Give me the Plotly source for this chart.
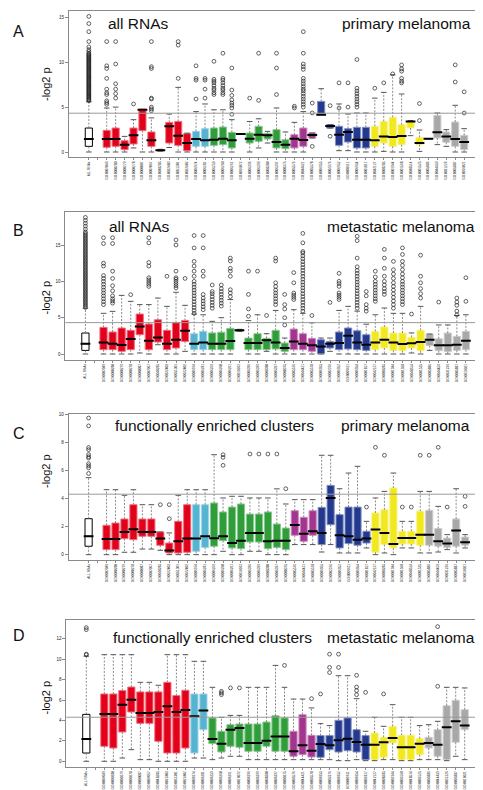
import plotly.graph_objects as go

# ---------------- categories ----------------
GO_TERMS = [
    "GO:0007049", "GO:0000280", "GO:0000279", "GO:0000278", "GO:0000087",
    "GO:0007067", "GO:0048285", "GO:0022403", "GO:0051301", "GO:0022402",
    "GO:0006974", "GO:0006281",
    "GO:0006259", "GO:0006260", "GO:0006261", "GO:0016072", "GO:0006396",
    "GO:0006399", "GO:0008380", "GO:0006397", "GO:0000375",
    "GO:0005576", "GO:0044421", "GO:0005578",
    "GO:0006955", "GO:0002376", "GO:0006952", "GO:0009611", "GO:0006954", "GO:0001817",
    "GO:0042127", "GO:0008285", "GO:0001944", "GO:0001568", "GO:0048514", "GO:0001525",
    "GO:0005886", "GO:0044459", "GO:0031226", "GO:0005887", "GO:0016021",
]
ALL_LABEL = "ALL RNAs"
GROUPS = (["red"] * 10 + ["lightblue"] * 2 + ["green"] * 9 + ["purple"] * 3
          + ["darkblue"] * 6 + ["yellow"] * 6 + ["gray"] * 5)
GROUP_COLORS = {
    "all": "#FFFFFF", "red": "#E2001A", "lightblue": "#56B4D3", "green": "#2F9E3A",
    "purple": "#A3358F", "darkblue": "#22398F", "yellow": "#F2E81E", "gray": "#A8A8A8",
}
THRESHOLD = 4.32  # -log2(0.05)

# ---------------- panel A: all RNAs, primary melanoma ----------------
A_LO = [0, 0, 0, 0, 0.45, 0, 0, 0.1, 0.5, 0, 0, 0, 0, 0, 0, 0, 2.0, 0, 0.45, 1.0, 0, 0,
        0, 0, 1.56, 4.16, 2.67, 0.15, 0.15, 0, 0, 0, 0.07, 0, 0, 1.82, 0.07, 1.48, 0.82, 0.63, 0, 0]
A_Q1 = [0.63, 0.52, 0.63, 0.26, 0.89, 2.38, 0.63, 0.15, 1.0, 0.74, 0.15, 0.63, 0.63, 0.74, 0.82, 0.45, 2.0, 1.0, 1.19, 1.45, 0.45, 0.37,
        0.45, 0.63, 1.56, 4.16, 2.67, 0.74, 1.11, 0.45, 0.45, 0.63, 1.0, 0.63, 0.82, 2.67, 0.82, 1.48, 1.56, 1.08, 0.63, 0.26]
A_MED = [1.45, 1.45, 1.45, 0.82, 1.86, 4.7, 1.3, 0.19, 2.86, 1.82, 1.0, 1.45, 1.3, 1.37, 1.48, 1.3, 2.0, 1.48, 1.93, 1.86, 1.11, 0.82,
         1.48, 1.34, 1.89, 4.16, 2.9, 1.93, 2.23, 1.37, 1.37, 1.3, 1.74, 1.67, 1.78, 3.41, 1.0, 1.48, 2.19, 1.74, 1.45, 1.11]
A_Q3 = [2.67, 2.41, 2.67, 1.26, 2.67, 4.75, 2.23, 0.22, 3.3, 3.41, 2.04, 2.3, 2.6, 2.67, 2.78, 2.19, 2.0, 2.12, 2.86, 2.08, 2.49, 1.37,
        1.93, 2.67, 2.12, 5.64, 3.04, 2.86, 2.6, 2.75, 2.75, 2.86, 3.41, 3.86, 3.04, 3.5, 1.63, 1.48, 4.08, 2.23, 3.34, 1.86]
A_HI = [5.6, 4.9, 5.0, 1.74, 3.6, 4.75, 3.8, 0.3, 4.23, 7.2, 2.1, 4.5, 5.35, 4.7, 4.7, 3.6, 2.0, 3.4, 3.7, 2.3, 4.9, 2.23,
        3.3, 4.5, 2.12, 7.05, 3.04, 5.35, 4.23, 4.34, 4.34, 6.0, 6.64, 8.6, 6.46, 3.5, 2.45, 1.48, 4.34, 2.49, 5.2, 2.6]
A_OUT = [
    [5.7, 5.8, 5.9, 6.0, 6.1, 6.2, 6.3, 6.4, 6.5, 6.6, 6.7, 6.8, 6.9, 7.0, 7.1, 7.2, 7.3, 7.4, 7.5, 7.6,
     7.7, 7.8, 7.9, 8.0, 8.1, 8.2, 8.3, 8.4, 8.5, 8.6, 8.7, 8.8, 8.9, 9.0, 9.1, 9.2, 9.3, 9.4, 9.5, 9.6,
     9.7, 9.8, 9.9, 10.0, 10.1, 10.2, 10.3, 10.4, 10.5, 10.6, 10.7, 10.8, 10.9, 11.0, 11.2, 11.4, 11.7,
     12.3, 13.4, 14.3, 15.1],
    [5.3, 5.5, 5.7, 6.4, 6.6, 7.0, 8.2, 9.3, 9.6, 12.3],
    [6.0, 6.5, 7.0, 7.6, 9.8, 12.3],
    [],
    [5.35],
    [],
    [4.6, 4.8, 5.0, 5.9, 6.0, 9.3, 9.5, 12.3],
    [],
    [],
    [8.2, 11.9, 12.3],
    [],
    [5.9, 8.0, 8.2, 9.6],
    [6.0, 7.0, 8.0, 8.2],
    [6.4, 6.6, 6.9, 7.1, 7.4, 7.7, 7.9, 8.1, 10.1],
    [6.4, 6.6, 6.9, 7.1, 7.4, 7.7, 8.0, 8.2, 11.0],
    [4.2, 4.9, 5.2, 5.45, 5.8, 6.3, 6.9, 9.35],
    [],
    [6.0],
    [5.75, 11.0],
    [],
    [6.4, 9.35, 11.0],
    [],
    [4.9, 5.1],
    [5.0, 5.3, 5.6, 5.9, 6.2, 6.5, 6.8, 7.0, 7.3, 7.6, 7.9, 8.2, 9.2, 9.5, 9.8, 11.0, 13.4],
    [0.63, 4.35, 5.45],
    [],
    [1.75, 5.16],
    [4.9, 7.7],
    [5.0, 7.7],
    [5.0, 5.3, 5.6, 5.9, 6.2, 6.5, 6.8, 7.1, 10.3],
    [],
    [7.1],
    [7.7],
    [8.7],
    [7.7, 7.9, 8.2, 9.0, 9.25, 9.7],
    [],
    [3.5, 5.4],
    [],
    [],
    [],
    [7.8, 9.7],
    [4.34, 6.7],
]

# ---------------- panel B: all RNAs, metastatic melanoma ----------------
B_LO = [0, 0, 0, 0, 0, 0.14, 0, 1.28, 0, 0, 0.37, 0, 0, 0, 0, 0, 3.12, 0, 0, 0.37, 0, 0,
        0, 0, 0, 0, 0.37, 0, 0, 0, 0, 0, 0, 0, 0, 0.14, 0, 0.5, 0, 0, 0, 0]
B_Q1 = [0.5, 0.6, 0.6, 0.37, 0.6, 2.66, 0.6, 1.65, 0.6, 0.83, 1.74, 0.6, 0.6, 0.6, 0.6, 0.6, 3.15, 0.6, 0.6, 0.6, 0.69, 0.37,
        0.6, 0.6, 0.37, 0.05, 0.83, 0.6, 0.69, 0.6, 0.5, 0.6, 0.83, 0.5, 0.46, 0.83, 0.46, 1.15, 0.46, 0.32, 0.5, 0.6]
B_MED = [1.42, 1.6, 1.42, 1.24, 2.06, 3.8, 1.83, 2.29, 1.42, 1.97, 3.21, 1.42, 1.6, 1.42, 1.42, 1.8, 3.26, 1.51, 1.51, 1.88, 1.6, 0.83,
         1.74, 1.42, 1.2, 1.05, 1.42, 1.51, 2.52, 1.6, 1.28, 1.6, 1.97, 1.6, 1.38, 1.47, 1.65, 1.97, 1.2, 1.2, 1.28, 1.83]
B_Q3 = [2.89, 3.67, 3.03, 3.58, 3.26, 5.5, 4.13, 4.72, 3.26, 4.31, 4.63, 2.8, 3.12, 2.9, 3.0, 3.53, 3.35, 2.2, 2.8, 2.16, 3.26, 1.51,
        3.44, 2.8, 2.16, 1.97, 1.74, 3.03, 3.58, 3.2, 2.66, 3.12, 3.72, 2.89, 2.89, 2.3, 3.26, 2.75, 2.1, 2.89, 2.43, 3.12]
B_HI = [6.3, 5.6, 5.87, 8.07, 7.25, 6.8, 6.8, 7.7, 6.56, 8.5, 6.7, 5.5, 5.4, 4.5, 5.0, 7.5, 3.4, 4.6, 5.4, 2.8, 6.0, 2.2,
        6.1, 5.6, 4.3, 2.2, 2.2, 6.0, 6.56, 5.9, 4.1, 5.4, 6.33, 5.6, 5.6, 2.9, 6.56, 2.75, 4.0, 4.0, 5.3, 5.4]
B_OUT = [
    [6.4, 6.6, 6.8, 7.0, 7.2, 7.4, 7.6, 7.8, 8.0, 8.2, 8.4, 8.6, 8.8, 9.0, 9.2, 9.4, 9.6, 9.8, 10.0, 10.2,
     10.4, 10.6, 10.8, 11.0, 11.2, 11.4, 11.6, 11.8, 12.0, 12.2, 12.4, 12.6, 12.8, 13.0, 13.2, 13.4, 13.6,
     13.8, 14.0, 14.2, 14.4, 14.6, 14.8, 15.0, 15.2, 15.4, 15.6, 15.8, 16.0, 16.2, 16.4, 16.6, 16.8,
     17.2, 17.6, 18.0, 18.4, 18.8],
    [6.8, 7.2, 7.6, 8.0, 8.4, 8.8, 9.2, 9.6, 10.0, 10.4, 10.8, 12.1, 12.5, 15.2, 16.0],
    [7.0, 7.3, 7.6, 8.0, 8.7, 9.4, 10.4, 11.4, 15.2, 16.0],
    [],
    [8.17],
    [],
    [9.3, 9.6, 9.9, 10.2, 10.5, 12.1, 12.6, 15.3, 16.0],
    [],
    [10.7],
    [9.1, 9.4, 9.7, 10.0, 10.3, 10.5, 11.4, 15.0, 15.7],
    [10.4],
    [5.6, 6.0, 6.4, 6.8, 7.2, 7.6, 8.0, 8.4, 8.8, 9.2, 9.6, 10.0, 10.7, 11.4, 12.1, 12.75, 14.6, 16.3],
    [6.1, 6.5, 6.9, 7.3, 7.7, 8.2, 10.7, 11.4, 14.6, 16.3],
    [6.3, 6.7, 7.1, 7.5, 7.9, 8.3, 8.6, 9.5],
    [6.6, 7.0, 7.4, 7.8, 8.2, 8.6, 9.0, 9.5],
    [7.9, 8.4, 8.85, 10.7, 11.4, 11.8, 12.8, 13.2],
    [],
    [5.2, 6.2, 8.2, 11.4],
    [11.4],
    [5.3],
    [6.8, 7.2, 7.6, 8.0, 8.4, 8.8, 9.3, 9.8, 12.8, 13.2],
    [4.0, 5.0, 6.2, 6.8, 8.2],
    [7.5, 7.8, 8.1, 8.4, 9.8, 11.2],
    [5.9, 6.3, 6.7, 7.1, 7.5, 7.9, 8.3, 8.7, 9.1, 9.5, 9.9, 10.3, 10.7, 11.1, 11.5, 11.9, 12.3, 12.7,
     13.1, 13.5, 13.9, 14.1, 15.3, 16.6],
    [5.3],
    [],
    [7.1],
    [7.5, 7.8, 8.1, 8.4, 9.3, 9.7, 10.0, 11.1],
    [],
    [6.3, 6.7, 7.1, 7.5, 7.9, 8.3, 8.7, 9.1, 9.5, 9.9, 10.3, 10.7, 11.1, 11.5, 12.0, 13.2, 15.6, 16.2],
    [5.9, 6.3, 6.8, 8.0, 8.6],
    [7.25, 7.6, 8.0, 8.4, 8.8, 9.2, 9.6, 10.0, 10.6, 11.4],
    [8.2, 8.6, 9.0, 9.5, 10.0, 10.7, 11.8, 13.2, 14.4],
    [6.3, 6.8, 7.3, 7.8, 8.3, 8.8, 9.3, 9.8, 10.4, 11.0, 11.6, 12.75],
    [6.8, 7.2, 7.6, 8.0, 8.4, 8.8, 9.2, 9.6, 10.0, 10.5, 11.0, 11.6, 12.2, 12.75, 13.7, 14.6],
    [5.5],
    [7.7, 8.3, 9.0, 9.8, 10.7, 13.6],
    [],
    [7.15],
    [],
    [5.4, 5.9, 6.7, 7.15, 7.7],
    [7.25, 10.5],
]

# ---------------- panel C: functionally enriched clusters, primary melanoma ----------------
C_LO = [0, 0, 0, 0.17, 0.17, 0.4, 0.4, 0.31, 0, 0, 0, 0, 0, 0, 0.24, 0, 0, 0.24, 0.24, 0, 0, 0,
        0.72, 0.72, 0.72, 0.19, 0.72, 0.12, 0.12, 0.12, 0.48, 0, 0.12, 0, 0.48, 0.48, 0.12, 0.12, 0.19, 0.36, 0.12, 0.48]
C_Q1 = [0.6, 0.36, 0.36, 1.14, 1.07, 1.31, 1.31, 0.67, 0.12, 0.12, 0.17, 0.24, 0.52, 0.6, 1.0, 0.48, 0.43, 0.9, 0.9, 0.43, 0.52, 0.36,
        1.38, 0.95, 1.38, 0.72, 2.14, 0.48, 0.79, 0.67, 0.83, 0.17, 0.72, 0.48, 0.76, 0.76, 0.67, 0.67, 0.6, 0.52, 0.6, 0.67]
C_MED = [1.31, 1.12, 1.12, 1.62, 1.81, 1.62, 1.62, 1.15, 0.29, 0.95, 1.15, 1.15, 1.31, 1.17, 1.31, 0.83, 1.0, 1.55, 1.55, 0.95, 1.0, 1.0,
         2.12, 1.5, 1.67, 1.55, 4.05, 1.38, 1.31, 1.07, 1.15, 1.79, 1.55, 0.76, 1.19, 1.19, 1.43, 1.43, 0.95, 0.79, 1.72, 0.88]
C_Q3 = [2.57, 2.1, 2.26, 2.55, 3.57, 2.55, 2.55, 1.62, 0.83, 2.38, 3.57, 3.57, 3.57, 3.69, 3.05, 3.4, 3.62, 2.9, 2.9, 3.05, 2.19, 1.9,
        3.14, 2.67, 3.14, 3.38, 4.95, 2.86, 3.4, 3.4, 1.67, 2.98, 3.21, 4.76, 1.67, 1.67, 3.1, 3.17, 1.86, 1.19, 2.55, 1.26]
C_HI = [5.5, 4.64, 4.64, 4.24, 4.64, 3.57, 3.57, 1.62, 1.55, 4.24, 4.64, 4.64, 4.64, 7.14, 4.05, 4.17, 4.17, 4.05, 4.05, 4.05, 4.7, 3.62,
        3.93, 3.93, 3.93, 7.1, 7.1, 4.71, 5.83, 6.31, 2.38, 4.05, 4.52, 5.83, 2.38, 2.38, 4.52, 4.52, 3.45, 1.43, 4.71, 1.43]
C_OUT = [
    [5.8, 6.2, 6.35, 6.5, 6.9, 7.0, 7.15, 7.5, 7.65, 9.2, 9.76],
    [], [], [], [], [], [],
    [3.57],
    [2.57, 3.57],
    [], [], [], [], [],
    [6.38, 6.95, 7.14],
    [], [],
    [7.19], [7.19], [7.19], [7.19],
    [4.71],
    [], [], [], [], [], [], [], [],
    [3.4],
    [7.67],
    [7.1],
    [],
    [3.4], [3.4],
    [7.1], [7.1],
    [7.67],
    [3.4],
    [],
    [3.45, 4.17],
]

# ---------------- panel D: functionally enriched clusters, metastatic melanoma ----------------
D_LO = [0, 0, 0, 0.32, 1.14, 0.16, 0.16, 0, 0, 0, 0, 0.32, 0.32, 0.16, 0.32, 0.49, 0.49, 0.16, 0.16, 0.16, 0.16, 0.16,
        0.16, 0.16, 0.16, 0.16, 0.16, 0.06, 0.06, 0.16, 0.06, 0.06, 0.16, 0.16, 0.06, 0.06, 0.16, 0.16, 0.16, 0.06, 0.49, 0.16]
D_Q1 = [0.81, 1.47, 1.3, 2.87, 4.83, 3.72, 3.72, 1.96, 0.81, 0.81, 1.3, 0.81, 3.1, 1.73, 0.91, 1.47, 1.37, 0.98, 0.98, 1.47, 0.98, 0.98,
        0.49, 0.65, 0.42, 0.39, 1.14, 0.91, 1.04, 0.91, 0.16, 0.16, 0.39, 1.8, 0.16, 0.16, 0.65, 1.3, 0.49, 0.16, 1.86, 3.1]
D_MED = [2.19, 4.64, 4.64, 5.55, 6.04, 4.74, 4.74, 4.83, 5.39, 4.83, 5.03, 4.41, 4.97, 2.19, 1.73, 3.1, 3.27, 1.8, 1.8, 2.02, 2.42, 2.42,
         0.98, 1.57, 1.04, 1.7, 1.57, 2.05, 2.22, 1.89, 1.63, 1.63, 1.86, 2.29, 1.37, 1.37, 1.73, 1.8, 1.63, 3.33, 3.92, 3.5]
D_Q3 = [4.6, 6.6, 6.6, 6.93, 7.28, 6.8, 6.8, 6.8, 7.74, 6.44, 6.96, 6.6, 6.6, 4.25, 2.94, 3.59, 3.66, 3.66, 3.66, 3.85, 4.47, 4.25,
        2.94, 4.57, 2.55, 2.52, 2.52, 4.02, 4.25, 3.1, 2.52, 2.77, 2.35, 3.43, 2.55, 2.55, 2.22, 2.35, 3.1, 5.45, 5.98, 5.06]
D_HI = [10.3, 10.45, 10.45, 10.45, 10.45, 7.74, 7.74, 7.45, 10.45, 10.45, 10.45, 9.8, 9.8, 7.25, 4.31, 4.5, 4.5, 7.25, 7.25, 7.25, 9.4, 7.25,
        6.1, 6.1, 5.23, 3.69, 3.5, 8.39, 8.39, 6.14, 2.94, 4.31, 3.43, 5.55, 4.31, 4.31, 3.5, 3.59, 3.92, 7.25, 7.25, 7.19]
D_OUT = [
    [10.45, 10.5, 12.9, 13.1],
    [], [], [], [], [], [], [], [], [], [], [], [], [],
    [6.53, 6.7, 6.86],
    [7.19],
    [7.19],
    [], [], [], [],
    [9.4],
    [], [],
    [6.14],
    [6.6],
    [8.7, 9.2, 10.5],
    [9.2, 10.5],
    [],
    [6.53, 6.93, 7.28, 8.43],
    [6.76],
    [],
    [6.6],
    [], [], [], [], [],
    [7.35, 13.2],
    [], [], [],
]

PANELS = [
    dict(letter="A", left="all RNAs", right="primary melanoma",
         lo=A_LO, q1=A_Q1, med=A_MED, q3=A_Q3, hi=A_HI, out=A_OUT,
         yrange=[-0.59, 15.67], yticks=[0, 5, 10, 15],
         px=(61, 476, 3.3, 149.3), letter_xy=(10.5, 23), ylab_xy=(38, 76),
         left_xy=(98, 16), right_xy=(465, 16)),
    dict(letter="B", left="all RNAs", right="metastatic melanoma",
         lo=B_LO, q1=B_Q1, med=B_MED, q3=B_Q3, hi=B_HI, out=B_OUT,
         yrange=[-0.78, 19.5], yticks=[0, 5, 10, 15],
         px=(57.3, 478, 204.3, 351.7), letter_xy=(10.5, 223), ylab_xy=(37.5, 290),
         left_xy=(99, 218), right_xy=(469, 218)),
    dict(letter="C", left="functionally enriched clusters", right="primary melanoma",
         lo=C_LO, q1=C_Q1, med=C_MED, q3=C_Q3, hi=C_HI, out=C_OUT,
         yrange=[-0.36, 10.07], yticks=[0, 2, 4, 6, 8, 10],
         px=(60.7, 477, 405.7, 551.7), letter_xy=(11, 425.5), ylab_xy=(37.5, 463.5),
         left_xy=(105, 417.5), right_xy=(464, 417.5)),
    dict(letter="D", left="functionally enriched clusters", right="metastatic melanoma",
         lo=D_LO, q1=D_Q1, med=D_MED, q3=D_Q3, hi=D_HI, out=D_OUT,
         yrange=[-0.56, 13.82], yticks=[0, 2, 4, 6, 8, 10, 12],
         px=(58.3, 476.7, 612.3, 759), letter_xy=(11, 627.5), ylab_xy=(37.5, 690),
         left_xy=(103, 629), right_xy=(469, 629)),
]

W, H = 483, 790
FONT = "Liberation Sans, Arial, Helvetica, sans-serif"
AXIS_COLOR = "#8a8a8a"
XRANGE = [-2.22, 44.22]


def slot(i):
    # index 0 = ALL RNAs, then one empty slot, then GO terms
    return 0 if i == 0 else i + 1


def tint(hex_color, f=0.45):
    h = hex_color.lstrip("#")
    r, g, b = (int(h[k:k + 2], 16) for k in (0, 2, 4))
    r, g, b = (int(c + (255 - c) * f) for c in (r, g, b))
    return f"rgb({r},{g},{b})"


fig = go.Figure()
layout_axes = {}
annotations = []
shapes = []

tickvals = [slot(i) for i in range(len(GO_TERMS) + 1)] + [1]
ticktext = [ALL_LABEL] + GO_TERMS + [""]
group_of = ["all"] + GROUPS

for p_i, P in enumerate(PANELS):
    n = p_i + 1
    xa = "x" if n == 1 else f"x{n}"
    ya = "y" if n == 1 else f"y{n}"
    x0, x1, y0, y1 = P["px"]
    dom_x = [x0 / W, x1 / W]
    dom_y = [1 - y1 / H, 1 - y0 / H]
    count = len(P["q1"])

    # whiskers (dashed)
    wx, wy = [], []
    for i in range(count):
        xs = slot(i)
        wx += [xs, xs, None, xs, xs, None]
        wy += [P["q3"][i], P["hi"][i], None, P["q1"][i], P["lo"][i], None]
    fig.add_trace(go.Scatter(x=wx, y=wy, mode="lines", xaxis=xa, yaxis=ya,
                             line=dict(color="#6f6f6f", width=0.8, dash="2px,1.5px"),
                             hoverinfo="skip", showlegend=False))
    # staples
    cx = [slot(i) for i in range(count)] * 2
    cy = list(P["hi"]) + list(P["lo"])
    fig.add_trace(go.Scatter(x=cx, y=cy, mode="markers", xaxis=xa, yaxis=ya,
                             marker=dict(symbol="line-ew", size=4,
                                         line=dict(color="#555555", width=1)),
                             hoverinfo="skip", showlegend=False))

    # boxes, one trace per colour group
    for g in ["all", "red", "lightblue", "green", "purple", "darkblue", "yellow", "gray"]:
        idx = [i for i in range(count) if group_of[i] == g]
        col = GROUP_COLORS[g]
        fig.add_trace(go.Box(
            x=[slot(i) for i in idx],
            q1=[P["q1"][i] for i in idx],
            median=[P["med"][i] for i in idx],
            q3=[P["q3"][i] for i in idx],
            lowerfence=[P["q1"][i] for i in idx],
            upperfence=[P["q3"][i] for i in idx],
            width=0.8, whiskerwidth=0, boxpoints=False,
            fillcolor=col,
            line=dict(color="#000000" if g == "all" else tint(col), width=1),
            xaxis=xa, yaxis=ya, hoverinfo="skip", showlegend=False))

    # medians
    fig.add_trace(go.Scatter(x=[slot(i) for i in range(count)], y=P["med"], mode="markers",
                             xaxis=xa, yaxis=ya,
                             marker=dict(symbol="line-ew", size=7,
                                         line=dict(color="#000000", width=2)),
                             hoverinfo="skip", showlegend=False))
    # outliers
    ox, oy = [], []
    for i, vals in enumerate(P["out"]):
        for v in vals:
            ox.append(slot(i))
            oy.append(v)
    fig.add_trace(go.Scatter(x=ox, y=oy, mode="markers", xaxis=xa, yaxis=ya,
                             marker=dict(symbol="circle-open", size=3.8,
                                         line=dict(color="#222222", width=0.7),
                                         color="#222222"),
                             hoverinfo="skip", showlegend=False))

    xkey = "xaxis" if n == 1 else f"xaxis{n}"
    ykey = "yaxis" if n == 1 else f"yaxis{n}"
    layout_axes[xkey] = dict(
        domain=dom_x, anchor=ya, range=XRANGE, tickmode="array",
        tickvals=tickvals, ticktext=ticktext, tickangle=-90,
        tickfont=dict(size=3.2, color="#222", family=FONT),
        ticks="outside", ticklen=2, tickwidth=0.6, tickcolor=AXIS_COLOR,
        showline=True, mirror=True, linecolor=AXIS_COLOR, linewidth=1,
        showgrid=False, zeroline=False, fixedrange=True)
    layout_axes[ykey] = dict(
        domain=dom_y, anchor=xa, range=P["yrange"], tickmode="array",
        tickvals=P["yticks"], tickfont=dict(size=4.5, color="#222", family=FONT),
        ticks="outside", ticklen=3, tickwidth=0.6, tickcolor=AXIS_COLOR,
        showline=True, mirror=True, linecolor=AXIS_COLOR, linewidth=1,
        showgrid=False, zeroline=False, fixedrange=True)

    shapes.append(dict(type="line", xref=f"{xa} domain", x0=0, x1=1, yref=ya,
                       y0=THRESHOLD, y1=THRESHOLD, line=dict(color="#9a9a9a", width=1),
                       layer="above"))

    lx, ly = P["letter_xy"]
    annotations.append(dict(text=P["letter"], x=lx / W, y=1 - ly / H, xref="paper", yref="paper",
                            xanchor="center", yanchor="middle", showarrow=False,
                            font=dict(size=16, color="#111", family=FONT)))
    yx, yy = P["ylab_xy"]
    annotations.append(dict(text="-log2 p", x=yx / W, y=1 - yy / H, xref="paper", yref="paper",
                            xanchor="center", yanchor="middle", textangle=-90, showarrow=False,
                            font=dict(size=11, color="#111", family=FONT)))
    tx, ty = P["left_xy"]
    annotations.append(dict(text=P["left"], x=tx / W, y=1 - ty / H, xref="paper", yref="paper",
                            xanchor="left", yanchor="middle", showarrow=False,
                            font=dict(size=15.5, color="#111", family=FONT)))
    rx, ry = P["right_xy"]
    annotations.append(dict(text=P["right"], x=rx / W, y=1 - ry / H, xref="paper", yref="paper",
                            xanchor="right", yanchor="middle", showarrow=False,
                            font=dict(size=15.5, color="#111", family=FONT)))

fig.update_layout(
    width=W, height=H, margin=dict(l=0, r=0, t=0, b=0),
    paper_bgcolor="white", plot_bgcolor="white",
    boxmode="overlay", showlegend=False,
    font=dict(family=FONT, color="#111"),
    annotations=annotations, shapes=shapes,
    **layout_axes,
)

fig.write_html("out.html", config={"displayModeBar": False})
